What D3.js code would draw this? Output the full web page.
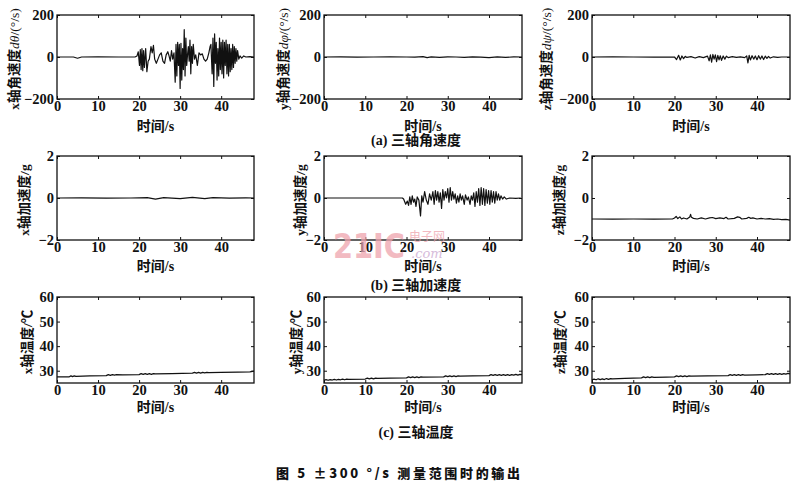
<!DOCTYPE html>
<html><head><meta charset="utf-8">
<script src="https://cdn.jsdelivr.net/npm/d3@7"></script>
<style>
html,body{margin:0;padding:0;background:#fff;}
svg{display:block;}
text{fill:#111;}
</style></head>
<body><svg id="c" width="800" height="485"></svg>
<script>
// ---------- data ----------
const xTicks = [0, 10, 20, 30, 40];
const gyroTicks = [-200, 0, 200];
const accTicks = [-2, 0, 2];
const tempTicks = [30, 40, 50, 60];
const captions = ["(a) 三轴角速度", "(b) 三轴加速度", "(c) 三轴温度"];
const figTitle = "图 5  ±300 °/s 测量范围时的输出";
const xTitle = "时间/s";

// x-axis angular rate (°/s)
const gyroX_t = [0,4,5,6,10,15,19,19.5,19.8,20.1,20.3,20.5,20.7,20.9,21.1,21.3,21.6,21.9,22.2,22.5,22.9,23.2,23.5,23.8,24.2,24.6,25.0,25.4,25.8,26.2,26.6,27.0,27.3,27.6,27.9,28.2,28.5,28.8,29.0,29.2,29.4,29.6,29.8,30.0,30.2,30.4,30.6,30.8,31.0,31.2,31.4,31.6,31.8,32.0,32.2,32.4,32.6,32.8,33.0,33.2,33.5,33.8,34.2,34.6,35.0,35.4,35.8,36.2,36.6,37.0,37.3,37.5,37.8,38.0,38.2,38.4,38.6,38.8,39.0,39.2,39.4,39.6,39.8,40.0,40.2,40.4,40.6,40.8,41.0,41.2,41.4,41.6,41.8,42.0,42.2,42.4,42.6,42.8,43.0,43.2,43.4,43.6,43.8,44.0,44.3,44.6,45.0,45.5,46,47,48];
const gyroX_v = [0,0,-6,0,1,0,0,5,25,-40,35,-60,40,-65,30,-50,40,-70,-20,-10,50,20,55,-10,-30,-10,10,20,-20,-30,10,25,5,-20,30,-10,20,-120,60,-90,70,-40,60,-150,65,-110,40,-60,130,-90,90,-40,10,50,-20,80,-80,50,-30,60,-10,10,-40,20,10,15,-10,-20,-10,20,50,60,-80,90,-140,110,-30,70,-110,40,-90,90,-60,70,-80,80,-100,70,-40,80,-80,60,-90,60,-70,40,-60,60,-50,50,-30,40,-20,30,-10,5,-5,5,0,2,0];

// y-axis angular rate
const gyroY_t = [0,4,8,12,16,20,22,24,25,26,28,30,32,34,36,38,40,42,44,46,48];
const gyroY_v = [0,1,-1,0,1,0,-1,2,-3,1,-2,1,0,-2,1,-1,-3,1,-2,1,0];

// z-axis angular rate
const gyroZ_t = [0,5,10,15,20,20.5,21,21.4,21.8,22.2,22.6,23,24,25,26,27,28,28.4,28.7,29,29.3,29.6,29.9,30.2,30.5,30.8,31.1,31.4,31.8,32.2,32.6,33,34,35,36,37,37.5,37.8,38.1,38.4,38.8,39.2,39.6,40,40.4,40.8,41.2,41.6,42,42.4,42.8,43.2,44,45,46,48];
const gyroZ_v = [0,1,0,-1,0,-12,8,-14,5,-8,3,-2,2,-5,2,-3,4,-18,10,-25,12,-10,10,-22,8,-14,6,-16,5,-10,4,-3,2,-2,1,-3,5,-28,8,-14,6,-10,5,-13,6,-10,5,-12,4,-7,3,-5,1,-2,0,0];

// x-axis acceleration (g)
const accX_t = [0,6,12,18,22,24,26,30,33,36,38,42,46,48];
const accX_v = [0,0.01,-0.01,0,0.02,-0.05,0.02,-0.03,0.03,-0.03,0.02,-0.01,0.01,0];

// y-axis acceleration (g)
const accY_t = [0,10,19,19.3,19.8,20.2,20.5,20.8,21.1,21.4,21.7,22.0,22.3,22.6,23.0,23.4,23.7,24.0,24.4,24.8,25.2,25.6,26.0,26.4,26.7,27.0,27.3,27.6,27.9,28.2,28.5,28.8,29.1,29.4,29.7,30.0,30.3,30.6,30.9,31.2,31.5,31.8,32.1,32.4,32.7,33.0,33.3,33.6,34.0,34.3,34.7,35.0,35.4,35.7,36.0,36.3,36.6,36.9,37.2,37.5,37.8,38.1,38.4,38.7,39.0,39.3,39.6,39.9,40.2,40.5,40.8,41.1,41.4,41.7,42.0,42.3,42.6,42.9,43.3,43.7,44.2,45,46.5,47.7];
const accY_v = [0,0,0,-0.05,-0.3,-0.15,-0.35,0.05,-0.3,0.1,-0.2,-0.05,-0.4,0.05,-0.1,-0.85,0.1,-0.2,0.3,-0.1,-0.3,0.2,-0.1,0.3,-0.3,0.35,-0.1,0.3,-0.2,0.25,-0.5,0.4,-0.1,0.3,0,0.45,-0.2,0.5,-0.1,0.3,-0.05,0.2,-0.25,0.1,-0.2,0.2,-0.1,0.1,-0.3,0.15,-0.1,0.05,-0.3,0.1,-0.1,0.25,-0.4,0.3,-0.2,0.45,-0.35,0.5,-0.3,0.45,-0.35,0.4,-0.25,0.35,-0.3,0.35,-0.2,0.3,-0.25,0.3,-0.1,0.2,-0.1,0.1,-0.05,0.05,-0.05,0,-0.02,0];

// z-axis acceleration (g)
const accZ_t = [0,5,10,15,19.5,20,20.4,20.8,21.3,21.7,22.2,23,23.7,23.9,24.1,24.6,25.5,26.5,27.5,28.5,29.2,30,31,32,32.5,33,34.5,35.3,35.8,36.3,37.5,38,38.5,39,40,41,42,43,44,45,46,47,48];
const accZ_v = [-1.0,-1.01,-1.0,-1.01,-1.0,-0.95,-0.88,-0.98,-0.9,-1.0,-0.95,-1.0,-0.9,-0.78,-0.92,-0.97,-1.0,-0.95,-1.0,-0.95,-0.93,-0.98,-0.95,-0.98,-0.92,-1.0,-0.97,-0.9,-0.92,-1.0,-0.97,-0.92,-0.97,-0.95,-1.0,-0.97,-1.0,-0.98,-1.02,-1.0,-1.03,-1.02,-1.05];

// temperatures (°C)
const tempX_t = [0,3,3.4,3.8,4.2,4.6,8,12,12.5,13,13.5,14,14.5,16,20,20.5,21,21.5,22,22.5,23,23.5,24,28,33,33.5,34,34.5,35,35.5,36,36.5,37,40,44,47,48];
const tempX_v = [27.5,27.5,27.9,27.6,27.9,27.7,27.9,28.0,28.4,28.1,28.4,28.2,28.4,28.3,28.4,28.8,28.5,28.8,28.5,28.8,28.5,28.8,28.7,28.8,29.0,29.3,29.0,29.3,29.0,29.3,29.1,29.3,29.2,29.3,29.4,29.5,29.8];
const tempY_t = [0,0.5,1,1.5,2,2.5,3,3.5,4,4.5,5,5.5,6,10,10.5,11,11.5,12,12.5,13,16,20,20.5,21,21.5,22,22.5,23,23.5,24,29,29.5,30,30.5,31,31.5,32,32.5,33,36,40,40.5,41,41.5,42,42.5,43,43.5,44,44.5,45,45.5,46,46.5,47,47.5,48];
const tempY_v = [26.1,26.4,26.1,26.4,26.2,26.5,26.2,26.5,26.3,26.6,26.3,26.6,26.5,26.6,27.0,26.7,27.0,26.7,27.0,26.9,27.0,27.1,27.5,27.2,27.5,27.2,27.5,27.2,27.5,27.4,27.5,27.9,27.6,27.9,27.6,27.9,27.6,27.9,27.8,27.9,28.0,28.4,28.1,28.4,28.1,28.4,28.1,28.4,28.1,28.4,28.1,28.4,28.2,28.5,28.2,28.5,28.4];
const tempZ_t = [0,0.5,1,1.5,2,2.5,3,3.5,4,4.5,5,8,12,12.5,13,13.5,14,14.5,15,18,20,20.5,21,21.5,22,22.5,23,23.5,24,28,33,33.5,34,34.5,35,35.5,36,36.5,37,40,42,42.5,43,43.5,44,44.5,45,45.5,46,46.5,47,47.5,48];
const tempZ_v = [26.3,26.6,26.3,26.7,26.4,26.7,26.4,26.8,26.5,26.8,26.7,26.9,27.1,27.5,27.2,27.5,27.2,27.5,27.3,27.4,27.5,27.9,27.6,27.9,27.6,27.9,27.6,27.9,27.8,27.9,28.0,28.4,28.1,28.4,28.1,28.4,28.1,28.4,28.2,28.3,28.4,28.8,28.5,28.8,28.5,28.8,28.5,28.8,28.5,28.8,28.6,28.9,28.7];

// ---------- layout ----------
const svg = d3.select("#c");
const SERIF = "'Liberation Serif','Times New Roman','Noto Sans CJK SC',serif";
const CJK = "'Liberation Serif','Noto Sans CJK SC',sans-serif";
const fmt = d3.format("d");

const cols = [{l:57,r:254},{l:324,r:522},{l:592,r:790}];
const rows = [{t:15,b:99},{t:156,b:240},{t:297,b:383}];
const xTitleY = [131, 271, 412];

const panels = [
  {row:0,col:0,t:gyroX_t,v:gyroX_v,dom:[-200,200],ticks:gyroTicks,lab:["x轴角速度","dθ","/(°/s)"],lx:43},
  {row:0,col:1,t:gyroY_t,v:gyroY_v,dom:[-200,200],ticks:gyroTicks,lab:["y轴角速度","dφ","/(°/s)"],lx:41},
  {row:0,col:2,t:gyroZ_t,v:gyroZ_v,dom:[-200,200],ticks:gyroTicks,lab:["z轴角速度","dψ","/(°/s)"],lx:46},
  {row:1,col:0,t:accX_t,v:accX_v,dom:[-2,2],ticks:accTicks,lab:["x轴加速度/g"],lx:33},
  {row:1,col:1,t:accY_t,v:accY_v,dom:[-2,2],ticks:accTicks,lab:["y轴加速度/g"],lx:24},
  {row:1,col:2,t:accZ_t,v:accZ_v,dom:[-2,2],ticks:accTicks,lab:["z轴加速度/g"],lx:33},
  {row:2,col:0,t:tempX_t,v:tempX_v,dom:[25,60],ticks:tempTicks,lab:["x轴温度/℃"],lx:30},
  {row:2,col:1,t:tempY_t,v:tempY_v,dom:[25,60],ticks:tempTicks,lab:["y轴温度/℃"],lx:28},
  {row:2,col:2,t:tempZ_t,v:tempZ_v,dom:[25,60],ticks:tempTicks,lab:["z轴温度/℃"],lx:32}
];

panels.forEach(p => {
  const c = cols[p.col], r = rows[p.row];
  const x = d3.scaleLinear().domain([0,48]).range([c.l,c.r]);
  const y = d3.scaleLinear().domain(p.dom).range([r.b,r.t]);
  const g = svg.append("g");

  // line
  const pts = p.t.map((t,i)=>[t,p.v[i]]);
  g.append("path").datum(pts)
    .attr("fill","none").attr("stroke","#111").attr("stroke-width",1.2)
    .attr("stroke-linejoin","round")
    .attr("d", d3.line().x(d=>x(d[0])).y(d=>y(d[1])));

  // axes (inward ticks on all sides)
  const ax = (gen, tr, labels) => {
    const a = g.append("g").attr("transform",tr).call(gen);
    a.select(".domain").remove();
    a.selectAll("line").attr("stroke","#111");
    if(!labels) a.selectAll("text").remove();
    else a.selectAll("text").attr("font-family",SERIF).attr("font-size",14.5).attr("font-weight","bold").attr("fill","#111");
    return a;
  };
  ax(d3.axisBottom(x).tickValues(xTicks).tickFormat(fmt).tickSizeInner(-3).tickSizeOuter(0).tickPadding(2), `translate(0,${r.b})`, true);
  ax(d3.axisTop(x).tickValues(xTicks).tickSizeInner(-3).tickSizeOuter(0), `translate(0,${r.t})`, false);
  ax(d3.axisLeft(y).tickValues(p.ticks).tickFormat(fmt).tickSizeInner(-3).tickSizeOuter(0).tickPadding(3), `translate(${c.l},0)`, true);
  ax(d3.axisRight(y).tickValues(p.ticks).tickSizeInner(-3).tickSizeOuter(0), `translate(${c.r},0)`, false);

  // frame
  g.append("rect").attr("x",c.l).attr("y",r.t).attr("width",c.r-c.l).attr("height",r.b-r.t)
    .attr("fill","none").attr("stroke","#111").attr("stroke-width",1.3);

  // x title
  g.append("text").attr("x",(c.l+c.r)/2).attr("y",xTitleY[p.row])
    .attr("text-anchor","middle").attr("font-family",CJK).attr("font-size",14).attr("font-weight","bold")
    .text(xTitle);

  // y label
  const cx = c.l - p.lx, cy = (r.t+r.b)/2 + 2;
  const yt = g.append("text").attr("transform",`translate(${cx},${cy}) rotate(-90)`)
    .attr("text-anchor","middle").attr("dominant-baseline","central")
    .attr("font-family",CJK).attr("font-size",13.5).attr("font-weight","bold");
  yt.append("tspan").text(p.lab[0]);
  if(p.lab.length>1){
    yt.append("tspan").attr("font-style","italic").attr("font-weight","normal").text(p.lab[1]);
    yt.append("tspan").attr("font-weight","normal").text(p.lab[2]);
  }
});

// captions
const capY = [145, 290, 437];
captions.forEach((s,i)=>{
  svg.append("text").attr("x",416).attr("y",capY[i]).attr("text-anchor","middle")
    .attr("font-family",CJK).attr("font-size",14).attr("font-weight","bold").text(s);
});
svg.append("text").attr("x",276).attr("y",478)
  .attr("font-family","'Noto Sans CJK SC',sans-serif").attr("font-size",13).attr("font-weight","900")
  .attr("textLength",244).attr("lengthAdjust","spacing").text(figTitle);

// watermark (site stamp in the reference image)
const wm = svg.append("g").attr("opacity",0.75);
wm.append("text").attr("x",333).attr("y",258).attr("font-family","'DejaVu Sans',sans-serif")
  .attr("font-size",34).attr("font-weight","bold").style("fill","#eea3ad")
  .attr("textLength",72).attr("lengthAdjust","spacingAndGlyphs").text("21IC");
wm.append("text").attr("x",409).attr("y",241).attr("font-family","'Noto Sans CJK SC',sans-serif")
  .attr("font-size",12).style("fill","#eea3ad").text("电子网");
wm.append("text").attr("x",411).attr("y",258).attr("font-family","'DejaVu Serif',serif").attr("font-style","italic")
  .attr("font-size",13).style("fill","#c9a6cf").text(".com");
</script></body></html>
